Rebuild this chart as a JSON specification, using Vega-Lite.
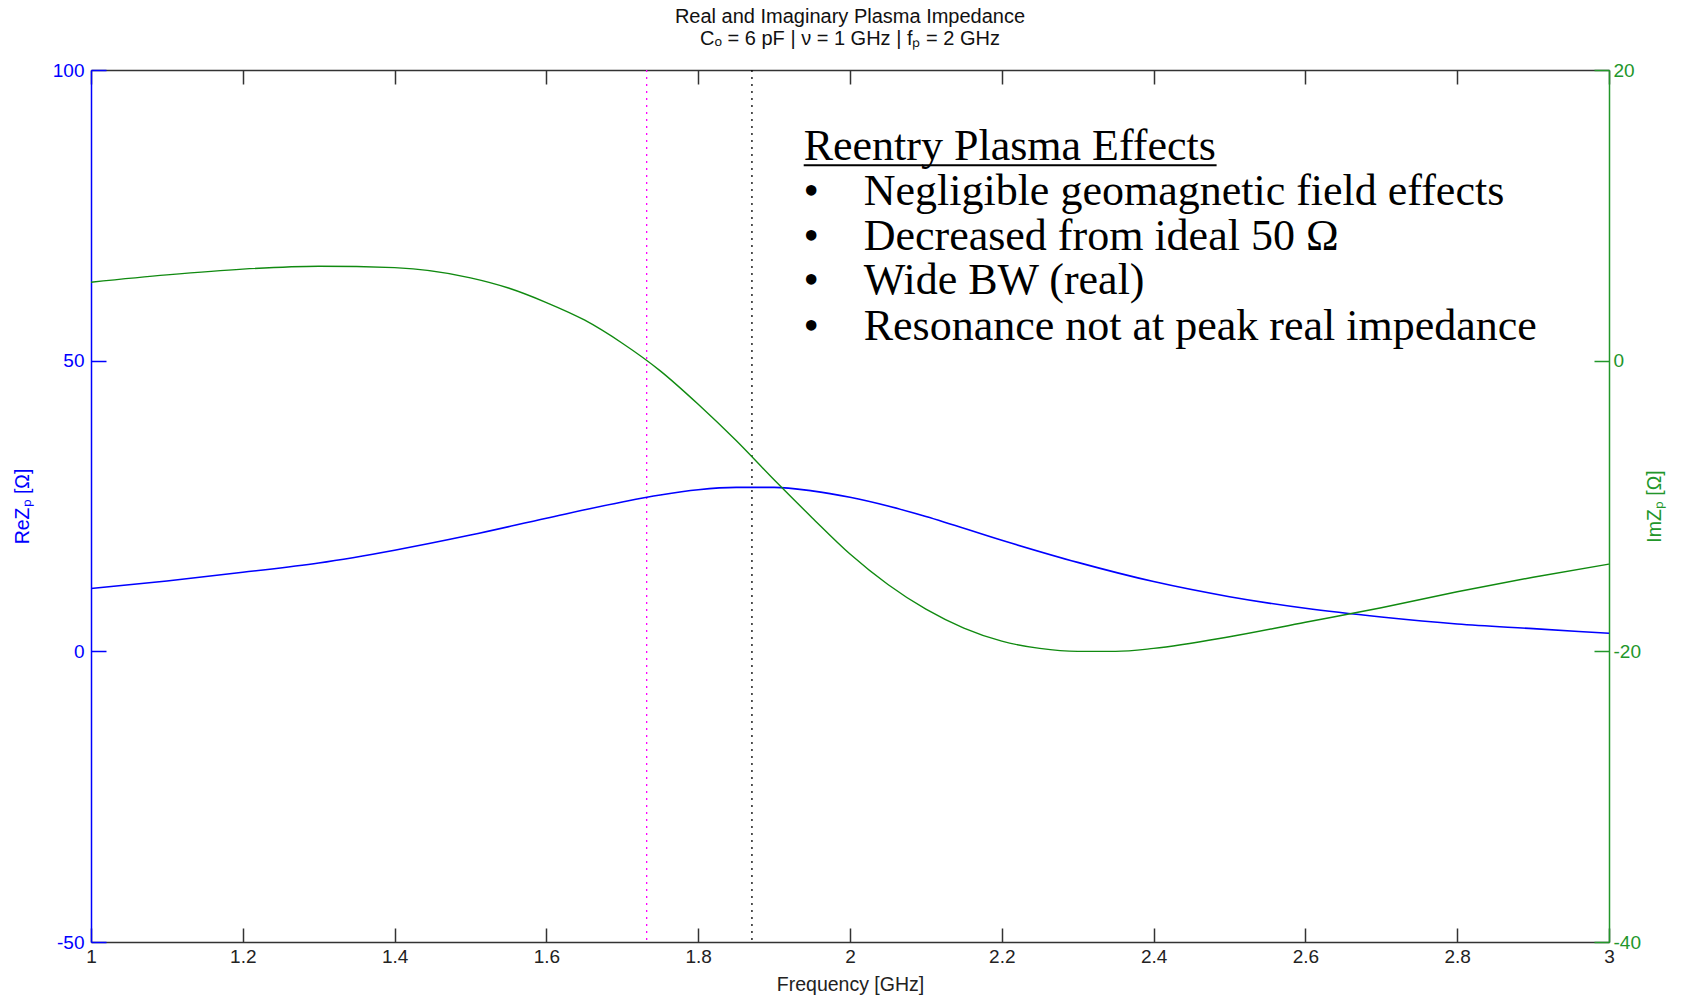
{
  "$schema": "https://vega.github.io/schema/vega-lite/v6.json",
  "width": 1518,
  "height": 872,
  "autosize": {"type": "none"},
  "padding": {"left": 91, "top": 70, "right": 76, "bottom": 55},
  "background": "white",
  "config": {"view": {"stroke": null}},
  "title": {
    "text": "Real and Imaginary Plasma Impedance",
    "subtitle": "Cₒ = 6 pF | ν = 1 GHz | fₚ = 2 GHz",
    "anchor": "middle",
    "font": "Liberation Sans",
    "subtitleFont": "Liberation Sans",
    "fontSize": 20,
    "subtitleFontSize": 20,
    "fontWeight": "normal",
    "color": "#111111",
    "subtitleColor": "#111111",
    "offset": 12,
    "subtitlePadding": 2
  },
  "datasets": {
    "re": [
      {"f": 1.0, "v": 10.8}, {"f": 1.1, "v": 12.1}, {"f": 1.2, "v": 13.6}, {"f": 1.3, "v": 15.2},
      {"f": 1.4, "v": 17.4}, {"f": 1.5, "v": 20.0}, {"f": 1.6, "v": 22.9}, {"f": 1.7, "v": 25.7},
      {"f": 1.75, "v": 26.9}, {"f": 1.8, "v": 27.8}, {"f": 1.85, "v": 28.2}, {"f": 1.9, "v": 28.2},
      {"f": 1.95, "v": 27.6}, {"f": 2.0, "v": 26.5}, {"f": 2.05, "v": 25.0}, {"f": 2.1, "v": 23.2},
      {"f": 2.2, "v": 19.1}, {"f": 2.3, "v": 15.3}, {"f": 2.4, "v": 12.0}, {"f": 2.5, "v": 9.4},
      {"f": 2.6, "v": 7.4}, {"f": 2.7, "v": 5.9}, {"f": 2.8, "v": 4.7}, {"f": 2.9, "v": 3.9},
      {"f": 3.0, "v": 3.1}
    ],
    "im": [
      {"f": 1.0, "v": 5.4}, {"f": 1.1, "v": 5.9}, {"f": 1.2, "v": 6.3}, {"f": 1.3, "v": 6.5},
      {"f": 1.4, "v": 6.4}, {"f": 1.5, "v": 5.7}, {"f": 1.55, "v": 5.0}, {"f": 1.6, "v": 4.0},
      {"f": 1.65, "v": 2.8}, {"f": 1.7, "v": 1.2}, {"f": 1.75, "v": -0.7}, {"f": 1.8, "v": -3.0},
      {"f": 1.85, "v": -5.5}, {"f": 1.9, "v": -8.2}, {"f": 1.95, "v": -10.8}, {"f": 2.0, "v": -13.3},
      {"f": 2.05, "v": -15.4}, {"f": 2.1, "v": -17.1}, {"f": 2.15, "v": -18.4}, {"f": 2.2, "v": -19.3},
      {"f": 2.25, "v": -19.8}, {"f": 2.3, "v": -20.0}, {"f": 2.35, "v": -20.0}, {"f": 2.4, "v": -19.8},
      {"f": 2.5, "v": -19.0}, {"f": 2.6, "v": -18.0}, {"f": 2.7, "v": -17.0}, {"f": 2.8, "v": -15.9},
      {"f": 2.9, "v": -14.9}, {"f": 3.0, "v": -14.0}
    ],
    "markers": [
      {"f": 1.7321, "kind": "fr"},
      {"f": 1.8708, "kind": "fres"}
    ],
    "underline": [
      {"f1": 1.939, "f2": 2.483, "v": 83.6}
    ],
    "notes": [
      {"t": "Reentry Plasma Effects", "f": 1.939, "v": 84.5, "role": "head"},
      {"t": "Negligible geomagnetic field effects", "f": 2.018, "v": 76.8, "role": "item"},
      {"t": "Decreased from ideal 50 Ω", "f": 2.018, "v": 69.1, "role": "item"},
      {"t": "Wide BW (real)", "f": 2.018, "v": 61.4, "role": "item"},
      {"t": "Resonance not at peak real impedance", "f": 2.018, "v": 53.6, "role": "item"},
      {"t": "•", "f": 1.949, "v": 76.8, "role": "bullet"},
      {"t": "•", "f": 1.949, "v": 69.1, "role": "bullet"},
      {"t": "•", "f": 1.949, "v": 61.4, "role": "bullet"},
      {"t": "•", "f": 1.949, "v": 53.6, "role": "bullet"}
    ]
  },
  "layer": [
    {
      "data": {"name": "markers"},
      "transform": [{"filter": "datum.kind == 'fr'"}],
      "mark": {"type": "rule", "color": "#ff00ff", "strokeDash": [2, 5], "strokeWidth": 1.3},
      "encoding": {"x": {"field": "f", "type": "quantitative", "axis": null}}
    },
    {
      "data": {"name": "markers"},
      "transform": [{"filter": "datum.kind == 'fres'"}],
      "mark": {"type": "rule", "color": "#000000", "strokeDash": [2, 5], "strokeWidth": 1.3},
      "encoding": {"x": {"field": "f", "type": "quantitative", "axis": null}}
    },
    {
      "data": {"name": "re"},
      "mark": {"type": "line", "color": "#0000ff", "strokeWidth": 1.6, "interpolate": "monotone"},
      "encoding": {
        "x": {
          "field": "f", "type": "quantitative",
          "scale": {"domain": [1, 3], "nice": false, "zero": false},
          "axis": {
            "orient": "bottom",
            "values": [1, 1.2, 1.4, 1.6, 1.8, 2, 2.2, 2.4, 2.6, 2.8, 3],
            "format": "~g",
            "title": "Frequency [GHz]",
            "grid": false,
            "domainColor": "#333333",
            "domainWidth": 1.5,
            "tickColor": "#333333",
            "tickWidth": 1.5,
            "tickSize": -14,
            "labelPadding": 19,
            "labelColor": "#222222",
            "labelFont": "Liberation Sans",
            "labelFontSize": 19,
            "labelFlush": false,
            "labelOverlap": false,
            "titleFont": "Liberation Sans",
            "titleFontSize": 19.5,
            "titleFontWeight": "normal",
            "titleColor": "#222222",
            "titlePadding": 9
          }
        },
        "y": {
          "field": "v", "type": "quantitative",
          "scale": {"domain": [-50, 100], "nice": false, "zero": false},
          "axis": {
            "orient": "left",
            "values": [-50, 0, 50, 100],
            "labelExpr": "replace(datum.label, '−', '-')",
            "title": "ReZₚ [Ω]",
            "grid": false,
            "domainColor": "#0000ff",
            "domainWidth": 1.5,
            "tickColor": "#0000ff",
            "tickWidth": 1.5,
            "tickSize": -15,
            "labelPadding": 22,
            "labelColor": "#0000ff",
            "labelFont": "Liberation Sans",
            "labelFontSize": 19,
            "labelFlush": false,
            "labelOverlap": false,
            "titleFont": "Liberation Sans",
            "titleFontSize": 19.5,
            "titleFontWeight": "normal",
            "titleColor": "#0000ff",
            "titlePadding": 20
          }
        }
      }
    },
    {
      "data": {"name": "underline"},
      "mark": {"type": "rule", "color": "#000000", "strokeWidth": 2},
      "encoding": {
        "x": {"field": "f1", "type": "quantitative", "axis": null},
        "x2": {"field": "f2"},
        "y": {"field": "v", "type": "quantitative", "axis": null, "scale": {"domain": [-50, 100], "nice": false, "zero": false}}
      }
    },
    {
      "data": {"name": "notes"},
      "transform": [{"filter": "datum.role == 'head' || datum.role == 'item'"}],
      "mark": {"type": "text", "align": "left", "baseline": "alphabetic", "font": "Liberation Serif", "fontSize": 44, "color": "#000000"},
      "encoding": {
        "x": {"field": "f", "type": "quantitative", "axis": null},
        "y": {"field": "v", "type": "quantitative", "axis": null, "scale": {"domain": [-50, 100], "nice": false, "zero": false}},
        "text": {"field": "t"}
      }
    },
    {
      "data": {"name": "notes"},
      "transform": [{"filter": "datum.role == 'bullet'"}],
      "mark": {"type": "text", "align": "center", "baseline": "alphabetic", "font": "Liberation Serif", "fontSize": 44, "color": "#000000"},
      "encoding": {
        "x": {"field": "f", "type": "quantitative", "axis": null},
        "y": {"field": "v", "type": "quantitative", "axis": null, "scale": {"domain": [-50, 100], "nice": false, "zero": false}},
        "text": {"field": "t"}
      }
    },
    {
      "data": {"name": "im"},
      "mark": {"type": "line", "color": "#108a10", "strokeWidth": 1.4, "interpolate": "monotone"},
      "encoding": {
        "x": {
          "field": "f", "type": "quantitative",
          "axis": {
            "orient": "top",
            "values": [1, 1.2, 1.4, 1.6, 1.8, 2, 2.2, 2.4, 2.6, 2.8, 3],
            "labels": false,
            "title": null,
            "grid": false,
            "domainColor": "#333333",
            "domainWidth": 1.5,
            "tickColor": "#333333",
            "tickWidth": 1.5,
            "tickSize": -14
          }
        },
        "y": {
          "field": "v", "type": "quantitative",
          "scale": {"domain": [-40, 20], "nice": false, "zero": false},
          "axis": {
            "orient": "right",
            "values": [-40, -20, 0, 20],
            "labelExpr": "replace(datum.label, '−', '-')",
            "title": "ImZₚ [Ω]",
            "titleAngle": 270,
            "grid": false,
            "domainColor": "#22962a",
            "domainWidth": 1.5,
            "tickColor": "#22962a",
            "tickWidth": 1.5,
            "tickSize": -15,
            "labelPadding": 19,
            "labelColor": "#22962a",
            "labelFont": "Liberation Sans",
            "labelFontSize": 19,
            "labelFlush": false,
            "labelOverlap": false,
            "titleFont": "Liberation Sans",
            "titleFontSize": 19.5,
            "titleFontWeight": "normal",
            "titleColor": "#22962a",
            "titlePadding": 24
          }
        }
      }
    }
  ],
  "resolve": {"scale": {"y": "independent"}, "axis": {"x": "independent"}}
}
